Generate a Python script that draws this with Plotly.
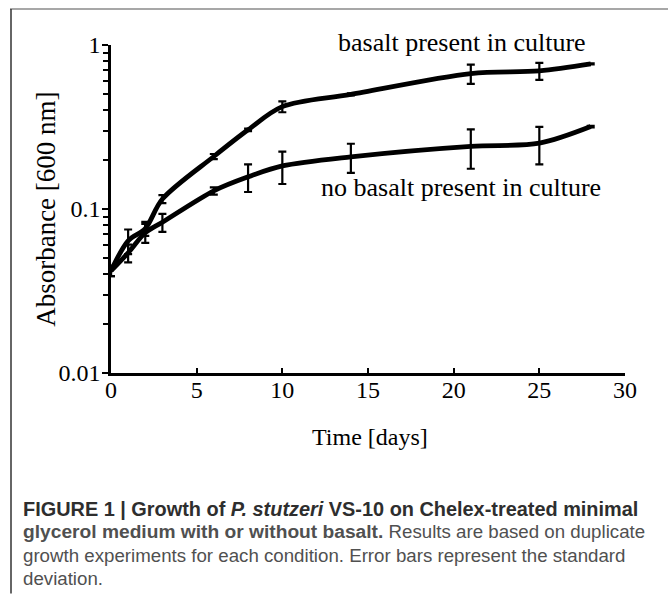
import plotly.graph_objects as go

days = [0, 1, 2, 3, 6, 8, 10, 14, 21, 25, 28]
basalt = [0.042, 0.064, 0.076, 0.115, 0.209, 0.304, 0.421, 0.50, 0.67, 0.695, 0.767]
basalt_err = [0.003, 0.011, 0.0075, 0.0065, 0.0075, 0.0055, 0.032, 0.007, 0.09, 0.082, 0.005]
no_basalt = [0.042, 0.054, 0.0716, 0.083, 0.129, 0.157, 0.183, 0.208, 0.241, 0.252, 0.318]
no_basalt_err = [0.003, 0.0067, 0.0095, 0.0105, 0.0066, 0.030, 0.041, 0.042, 0.065, 0.065, 0.0037]

x_ticks = [0, 5, 10, 15, 20, 25, 30]
y_ticks = [0.01, 0.1, 1]
y_ticktext = ["0.01", "0.1", "1"]
y_minor = [m * 10 ** e for e in (-2, -1) for m in range(2, 10)]

label_basalt = "basalt present in culture"
label_no_basalt = "no basalt present in culture"
x_title = "Time [days]"
y_title = "Absorbance [600 nm]"
caption_lines = [
    "<span style='font-size:19.9px'><b>FIGURE 1 | Growth of <i>P. stutzeri</i> VS-10 on Chelex-treated minimal</b></span>",
    "<span style='font-size:19.2px'><b>glycerol medium with or without basalt.</b></span> Results are based on duplicate",
    "growth experiments for each condition. Error bars represent the standard",
    "deviation.",
]

W, H = 668, 594
L, R, T, B = 111, 43, 45, 220.7
PW, PH = W - L - R, H - T - B


def px(x):
    return (x - L) / PW


def py(y):
    return (H - B - y) / PH


serif = "Liberation Serif"
line_style = dict(color="black", width=4.8, shape="spline", smoothing=0.9)

fig = go.Figure()
for vals, errs in ((basalt, basalt_err), (no_basalt, no_basalt_err)):
    fig.add_trace(go.Scatter(
        x=days, y=vals, mode="lines", line=line_style,
        error_y=dict(type="data", array=errs, visible=True,
                     color="black", thickness=2.2, width=4),
        showlegend=False, hoverinfo="skip",
    ))

fig.update_layout(
    width=W, height=H,
    margin=dict(l=L, r=R, t=T, b=B),
    paper_bgcolor="white", plot_bgcolor="white",
    font=dict(family=serif, size=23, color="black"),
    xaxis=dict(range=[0, 30], tickvals=x_ticks, showgrid=False, zeroline=False,
               showline=True, linecolor="black", linewidth=2.5,
               ticks="inside", ticklen=5, tickwidth=2, tickcolor="black",
               ticklabelstandoff=-7,
               tickfont=dict(family=serif, size=24)),
    yaxis=dict(type="log", range=[-2, 0], tickvals=y_ticks, ticktext=y_ticktext,
               showgrid=False, zeroline=False,
               showline=True, linecolor="black", linewidth=2.5,
               ticks="outside", ticklen=6, tickwidth=2, tickcolor="black",
               ticklabelstandoff=-3,
               tickfont=dict(family=serif, size=24),
               minor=dict(tickvals=y_minor, ticks="outside", ticklen=5,
                          tickwidth=2, tickcolor="black", showgrid=False)),
)

ann = [
    dict(text=label_basalt, x=px(462), y=py(42), size=26),
    dict(text=label_no_basalt, x=px(461), y=py(188), size=26),
    dict(text=x_title, x=px(370), y=py(437), size=24),
]
for a in ann:
    fig.add_annotation(text=a["text"], x=a["x"], y=a["y"], xref="paper", yref="paper",
                       showarrow=False, xanchor="center", yanchor="middle",
                       font=dict(family=serif, size=a["size"], color="black"))
fig.add_annotation(text=y_title, x=px(46), y=py(210), xref="paper", yref="paper",
                   showarrow=False, xanchor="center", yanchor="middle", textangle=-90,
                   font=dict(family=serif, size=27, color="black"))

cap_y = [509, 532, 556, 579]
for i, (line, yy) in enumerate(zip(caption_lines, cap_y)):
    fig.add_annotation(text=line, x=px(21), y=py(yy), xref="paper", yref="paper",
                       showarrow=False, xanchor="left", yanchor="middle",
                       font=dict(family="Liberation Sans", size=18.7,
                                 color="#2e2e2e" if i == 0 else "#505050"))

# frame lines
fig.add_shape(type="line", xref="paper", yref="paper", x0=px(10), x1=px(668),
              y0=py(9), y1=py(9), line=dict(color="#8a8a8a", width=1.5))
fig.add_shape(type="line", xref="paper", yref="paper", x0=px(11), x1=px(11),
              y0=py(9), y1=py(594), line=dict(color="#333333", width=1.5))

fig.write_html("out.html", config={"displayModeBar": False},
               post_script="document.body.style.margin='0';document.body.style.padding='0';")
